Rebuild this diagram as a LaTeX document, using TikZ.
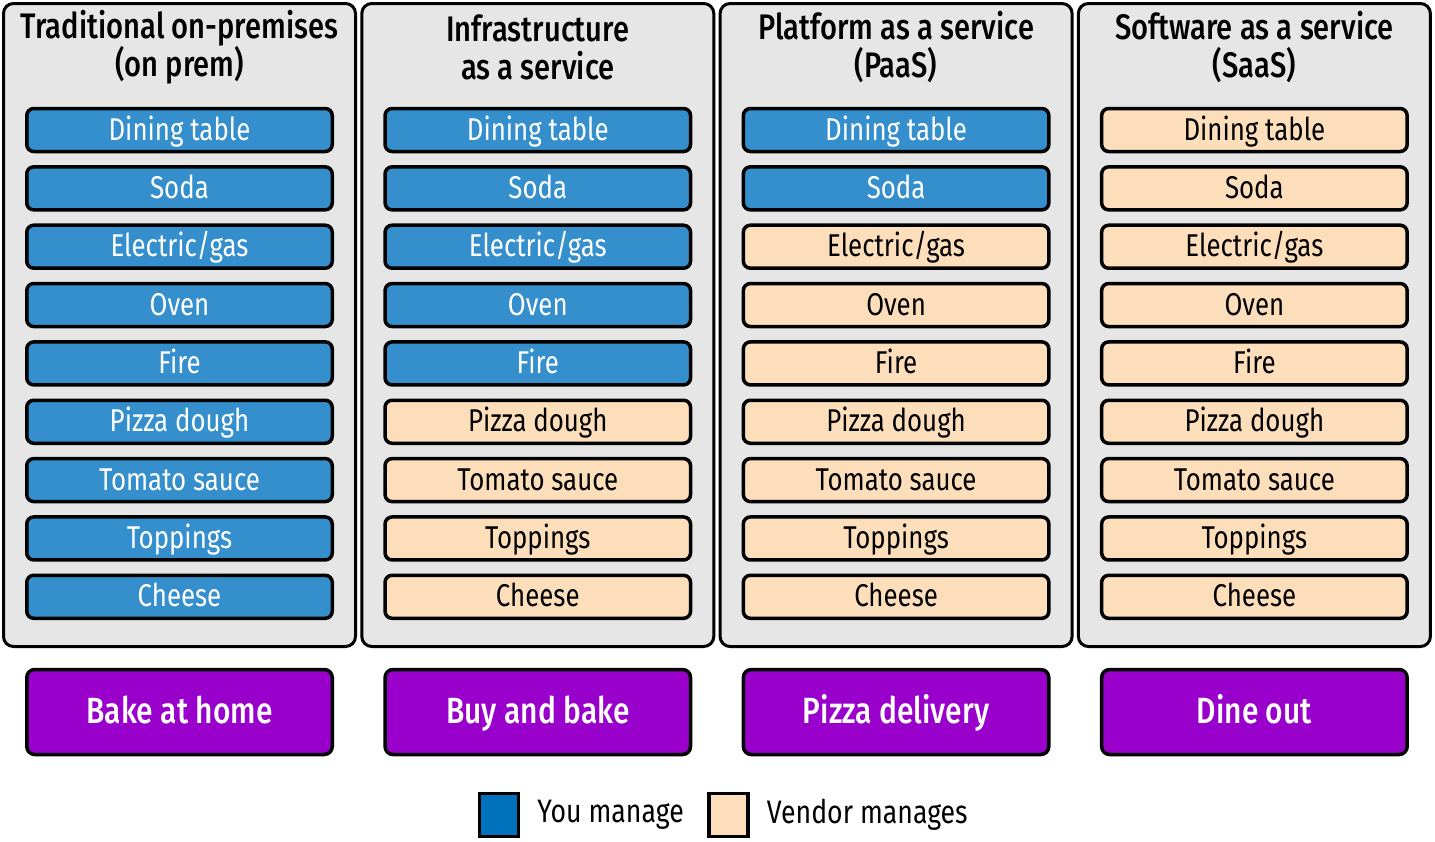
\documentclass[tikz,border=0pt]{standalone}
\usepackage{fontspec}
\setmainfont{Fira Sans}[FakeStretch=0.82]
\newfontfamily\titlefont{Fira Sans Medium}[FakeStretch=0.82]
\usetikzlibrary{positioning}
\definecolor{panelgray}{HTML}{E6E6E6}
\definecolor{youblue}{HTML}{348FCC}
\definecolor{vendorbeige}{HTML}{FDDEBA}
\definecolor{dealpurple}{HTML}{9900CC}
\definecolor{keyblue}{HTML}{0071BC}
\tikzset{
  panel/.style={draw, line width=3pt, rounded corners=10pt, fill=panelgray, minimum width=352pt, minimum height=643pt},
  title/.style={align=center, font=\titlefont\fontsize{35.5}{38}\selectfont},
  item/.style={draw, line width=3.5pt, rounded corners=7pt, minimum width=305.5pt, minimum height=43pt, inner sep=0pt, text height=26pt, text depth=6pt, font=\fontsize{31.5}{32}\selectfont},
  deal/.style={draw, line width=3.5pt, rounded corners=8pt, fill=dealpurple, text=white, minimum width=305.5pt, minimum height=85pt, inner sep=0pt, text height=30pt, text depth=8pt, font=\titlefont\fontsize{36.5}{38}\selectfont},
  key/.style={draw, line width=3.5pt, minimum width=39pt, minimum height=43pt, inner sep=0pt},
  keytext/.style={font=\fontsize{32.5}{33}\selectfont, inner sep=0pt}
}
\begin{document}
\begin{tikzpicture}[x=1pt,y=-1pt]
\useasboundingbox (0,0) rectangle (1435,841);
\foreach \c/\nb/\ttl/\bot in {1/9/{Traditional on-premises\\(on prem)}/Bake at home, 2/5/{Infrastructure\\as a service}/Buy and bake, 3/2/{Platform as a service\\(PaaS)}/Pizza delivery, 4/0/{Software as a service\\(SaaS)}/Dine out}{
  \pgfmathsetmacro\cx{179.5+358.3*(\c-1)}
  \node[panel] (panel\c) at (\cx,325) {};
  \node[title] (title\c) at (\cx,47) {\ttl};
  \foreach \t [count=\r] in {Dining table,Soda,Electric/gas,Oven,Fire,Pizza dough,Tomato sauce,Toppings,Cheese}{
    \ifnum\r>\nb\relax \def\fillc{vendorbeige}\def\txtc{black}\else \def\fillc{youblue}\def\txtc{white}\fi
    \node[item, fill=\fillc, text=\txtc] (item\c-\r) at (\cx,{130+58.35*(\r-1)}) {\t};
  }
  \node[deal] (deal\c) at (\cx,712) {\bot};
}
% legend
\node[key, fill=keyblue] (keyyou) at (499,815) {};
\node[keytext, right=17pt of keyyou] (labyou) {You manage};
\node[key, fill=vendorbeige] (keyvendor) at (728.5,815) {};
\node[keytext, right=17pt of keyvendor] (labvendor) {Vendor manages};
\end{tikzpicture}
\end{document}
